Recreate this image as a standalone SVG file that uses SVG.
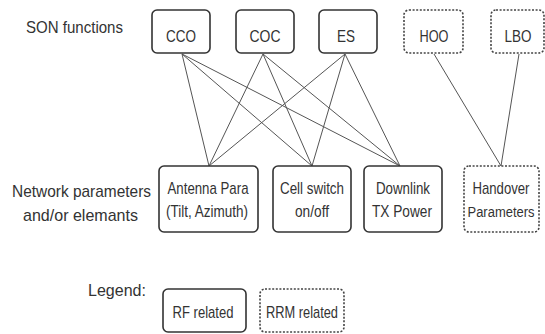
<svg xmlns="http://www.w3.org/2000/svg" width="545" height="334" viewBox="0 0 545 334">
<style>
.bg{fill:#ffffff}
.rf{fill:#ffffff;stroke:#333;stroke-width:1.6}
.rrm{fill:#ffffff;stroke:#444;stroke-width:1.6;stroke-dasharray:2 1.6}
.ln{stroke:#555;stroke-width:1;fill:none}
text{font-family:"Liberation Sans Narrow","Liberation Sans",Arial,sans-serif;font-size:17px;fill:#333}
.c{text-anchor:middle}
</style>
<rect class="bg" x="0" y="0" width="545" height="334"/>
<g id="connectors">
<line class="ln" x1="182" y1="54" x2="209" y2="166"/>
<line class="ln" x1="182" y1="54" x2="312" y2="166"/>
<line class="ln" x1="182" y1="54" x2="400" y2="166"/>
<line class="ln" x1="263" y1="54" x2="209" y2="166"/>
<line class="ln" x1="263" y1="54" x2="312" y2="166"/>
<line class="ln" x1="263" y1="54" x2="400" y2="166"/>
<line class="ln" x1="345" y1="54" x2="209" y2="166"/>
<line class="ln" x1="345" y1="54" x2="312" y2="166"/>
<line class="ln" x1="345" y1="54" x2="400" y2="166"/>
<line class="ln" x1="434" y1="54" x2="501" y2="166"/>
<line class="ln" x1="519" y1="54" x2="501" y2="166"/>
</g>
<g id="labels">
<text x="26" y="33" textLength="97" lengthAdjust="spacingAndGlyphs">SON functions</text>
<text x="12" y="197" textLength="139" lengthAdjust="spacingAndGlyphs">Network parameters</text>
<text x="23" y="221" textLength="115" lengthAdjust="spacingAndGlyphs">and/or elemants</text>
<text x="88" y="296" textLength="58" lengthAdjust="spacingAndGlyphs">Legend:</text>
</g>
<g id="cco"><rect class="rf" x="152" y="10" width="58" height="43" rx="5"/><text class="c" x="181" y="42" textLength="30" lengthAdjust="spacingAndGlyphs">CCO</text></g>
<g id="coc"><rect class="rf" x="236" y="10" width="58" height="43" rx="5"/><text class="c" x="265" y="42" textLength="31" lengthAdjust="spacingAndGlyphs">COC</text></g>
<g id="es"><rect class="rf" x="319" y="10" width="58" height="43" rx="5"/><text class="c" x="346" y="42" textLength="18" lengthAdjust="spacingAndGlyphs">ES</text></g>
<g id="hoo"><rect class="rrm" x="404" y="10" width="59" height="43" rx="5"/><text class="c" x="434" y="42" textLength="29" lengthAdjust="spacingAndGlyphs">HOO</text></g>
<g id="lbo"><rect class="rrm" x="491" y="10" width="53" height="43" rx="5"/><text class="c" x="518" y="42" textLength="27" lengthAdjust="spacingAndGlyphs">LBO</text></g>
<g id="antenna"><rect class="rf" x="159" y="166" width="99" height="66" rx="5"/><text class="c" x="208" y="194" textLength="81" lengthAdjust="spacingAndGlyphs">Antenna Para</text><text class="c" x="207" y="217" textLength="82" lengthAdjust="spacingAndGlyphs">(Tilt, Azimuth)</text></g>
<g id="cellswitch"><rect class="rf" x="273" y="166" width="78" height="66" rx="5"/><text class="c" x="312" y="194" textLength="64" lengthAdjust="spacingAndGlyphs">Cell switch</text><text class="c" x="312" y="217" textLength="34" lengthAdjust="spacingAndGlyphs">on/off</text></g>
<g id="downlink"><rect class="rf" x="364" y="166" width="78" height="66" rx="5"/><text class="c" x="403" y="194" textLength="54" lengthAdjust="spacingAndGlyphs">Downlink</text><text class="c" x="402" y="217" textLength="60" lengthAdjust="spacingAndGlyphs">TX Power</text></g>
<g id="handover"><rect class="rrm" x="464" y="166" width="75" height="66" rx="5"/><text class="c" x="501" y="194" textLength="57" lengthAdjust="spacingAndGlyphs">Handover</text><text class="c" x="501" y="217" style="font-size:14px" textLength="67" lengthAdjust="spacingAndGlyphs">Parameters</text></g>
<g id="legend-rf"><rect class="rf" x="163" y="289" width="83" height="43" rx="5"/><text class="c" x="203" y="318" textLength="61" lengthAdjust="spacingAndGlyphs">RF related</text></g>
<g id="legend-rrm"><rect class="rrm" x="260" y="289" width="84" height="43" rx="5"/><text class="c" x="302" y="318" textLength="72" lengthAdjust="spacingAndGlyphs">RRM related</text></g>
</svg>
